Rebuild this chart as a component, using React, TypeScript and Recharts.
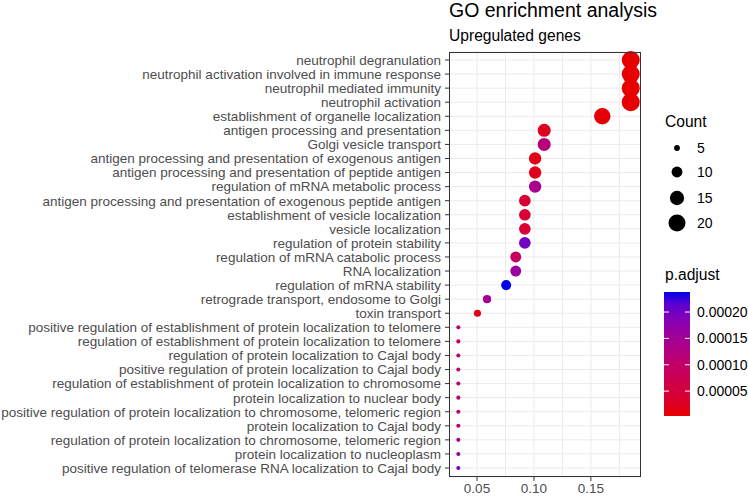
import {
  ScatterChart,
  Scatter,
  XAxis,
  YAxis,
  ZAxis,
  CartesianGrid,
  Cell,
} from "recharts";

const terms = [
  "neutrophil degranulation",
  "neutrophil activation involved in immune response",
  "neutrophil mediated immunity",
  "neutrophil activation",
  "establishment of organelle localization",
  "antigen processing and presentation",
  "Golgi vesicle transport",
  "antigen processing and presentation of exogenous antigen",
  "antigen processing and presentation of peptide antigen",
  "regulation of mRNA metabolic process",
  "antigen processing and presentation of exogenous peptide antigen",
  "establishment of vesicle localization",
  "vesicle localization",
  "regulation of protein stability",
  "regulation of mRNA catabolic process",
  "RNA localization",
  "regulation of mRNA stability",
  "retrograde transport, endosome to Golgi",
  "toxin transport",
  "positive regulation of establishment of protein localization to telomere",
  "regulation of establishment of protein localization to telomere",
  "regulation of protein localization to Cajal body",
  "positive regulation of protein localization to Cajal body",
  "regulation of establishment of protein localization to chromosome",
  "protein localization to nuclear body",
  "positive regulation of protein localization to chromosome, telomeric region",
  "protein localization to Cajal body",
  "regulation of protein localization to chromosome, telomeric region",
  "protein localization to nucleoplasm",
  "positive regulation of telomerase RNA localization to Cajal body",
];

const geneRatio = [
  0.185, 0.185, 0.185, 0.185, 0.16, 0.109, 0.109, 0.101, 0.101, 0.101, 0.092,
  0.092, 0.092, 0.092, 0.084, 0.084, 0.0756, 0.0588, 0.0504, 0.0336, 0.0336,
  0.0336, 0.0336, 0.0336, 0.0336, 0.0336, 0.0336, 0.0336, 0.0336, 0.0336,
];

const counts = [
  22, 22, 22, 22, 19, 13, 13, 12, 12, 12, 11, 11, 11, 11, 10, 10, 9, 7, 6, 4, 4,
  4, 4, 4, 4, 4, 4, 4, 4, 4,
];

const pAdjust = [
  0.0000028, 0.000003, 0.0000033, 0.0000036, 0.0000052, 0.000022, 0.00012,
  0.000016, 0.000018, 0.00014, 0.000042, 0.00004, 0.00004, 0.0002, 0.00009,
  0.00016, 0.000238, 0.00015, 0.000012, 0.0001, 0.0001, 0.0001, 0.0001,
  0.0001, 0.0001, 0.0001, 0.0001, 0.00014, 0.00016, 0.0002,
];

const xDomain = [0.0254, 0.194];
const xTicks = [0.05, 0.1, 0.15];
const xGrid = [0.05, 0.075, 0.1, 0.125, 0.15, 0.175];
const countBreaks = [5, 10, 15, 20];
const pBreaks = [0.00005, 0.0001, 0.00015, 0.0002];

const data = terms.map((term, i) => ({
  term,
  ratio: geneRatio[i],
  count: counts[i],
  p: pAdjust[i],
}));

// low (red) -> high (blue), mixed in Lab like ggplot's gradient
const LOW = [48.0, 74.0, 62.1];
const HIGH = [28.7, 73.3, -99.8];

function labToHex(L: number, a: number, b: number) {
  const fy = (L + 16) / 116;
  const fx = fy + a / 500;
  const fz = fy - b / 200;
  const f = (t: number) => (t ** 3 > 0.008856 ? t ** 3 : (t - 16 / 116) / 7.787);
  const X = 0.95047 * f(fx);
  const Y = f(fy);
  const Z = 1.08883 * f(fz);
  const lin = [
    3.2406 * X - 1.5372 * Y - 0.4986 * Z,
    -0.9689 * X + 1.8758 * Y + 0.0415 * Z,
    0.0557 * X - 0.204 * Y + 1.057 * Z,
  ];
  return (
    "#" +
    lin
      .map((c) => {
        c = Math.min(1, Math.max(0, c));
        const s = c <= 0.0031308 ? 12.92 * c : 1.055 * c ** (1 / 2.4) - 0.055;
        return Math.round(s * 255).toString(16).padStart(2, "0");
      })
      .join("")
  );
}

const pMin = Math.min(...pAdjust);
const pMax = Math.max(...pAdjust);

const colorAt = (t: number) =>
  labToHex(
    LOW[0] + (HIGH[0] - LOW[0]) * t,
    LOW[1] + (HIGH[1] - LOW[1]) * t,
    LOW[2] + (HIGH[2] - LOW[2]) * t
  );
const pColor = (p: number) => colorAt((p - pMin) / (pMax - pMin));

const font = "'Liberation Sans', Arial, sans-serif";

// minor + major vertical grid lines
const gridCoords = (args: any) => {
  const sc = args?.xAxis?.scale;
  if (typeof sc === "function") return xGrid.map((v) => sc(v));
  const left = args?.offset?.left ?? 449;
  const w = args?.offset?.width ?? 192;
  return xGrid.map(
    (v) => left + ((v - xDomain[0]) / (xDomain[1] - xDomain[0])) * w
  );
};

// single-line term labels (no wrapping)
const TermTick = ({ x, y, payload }: any) => (
  <text
    x={x - 2}
    y={y}
    dy="0.36em"
    textAnchor="end"
    fill="#4d4d4d"
    fontSize={13.5}
  >
    {payload.value}
  </text>
);

const Overlay = () => {
  const barTop = 292;
  const barBottom = 416;
  const barY = (p: number) =>
    barBottom - ((p - pMin) / (pMax - pMin)) * (barBottom - barTop);
  const sizeY = [148, 172, 198, 223];
  const radius = (c: number) =>
    Math.sqrt((13 + ((c - 4) / 18) * 241) / Math.PI);
  return (
    <svg
      width={748}
      height={497}
      style={{ position: "absolute", left: 0, top: 0, pointerEvents: "none" }}
    >
      <defs>
        <linearGradient id="pgrad" x1="0" y1="1" x2="0" y2="0">
          {Array.from({ length: 11 }, (_, i) => (
            <stop key={i} offset={i / 10} stopColor={colorAt(i / 10)} />
          ))}
        </linearGradient>
      </defs>
      <rect x={449.5} y={52.5} width={191} height={424} fill="none" stroke="#333333" />
      <text x={449} y={17} fontSize={19.5} fill="#000">
        GO enrichment analysis
      </text>
      <text x={449} y={41} fontSize={15.6} fill="#000">
        Upregulated genes
      </text>

      <text x={665} y={127} fontSize={15.6} fill="#000">
        Count
      </text>
      {countBreaks.map((c, i) => (
        <g key={c}>
          <circle cx={677} cy={sizeY[i]} r={radius(c)} fill="#000" />
          <text x={697} y={sizeY[i] + 5} fontSize={14} fill="#000">
            {c}
          </text>
        </g>
      ))}

      <text x={665} y={280} fontSize={15.6} fill="#000">
        p.adjust
      </text>
      <rect x={664} y={barTop} width={26} height={barBottom - barTop} fill="url(#pgrad)" />
      {pBreaks.map((p) => (
        <g key={p}>
          <line x1={664} x2={669} y1={barY(p)} y2={barY(p)} stroke="#fff" />
          <line x1={685} x2={690} y1={barY(p)} y2={barY(p)} stroke="#fff" />
          <text x={697} y={barY(p) + 5} fontSize={14} fill="#000">
            {p.toFixed(5)}
          </text>
        </g>
      ))}
    </svg>
  );
};

const App = () => {
  return (
    <div
      style={{
        position: "absolute",
        left: 0,
        top: 0,
        width: 748,
        height: 497,
        background: "#fff",
        fontFamily: font,
      }}
    >
      <ScatterChart
        width={748}
        height={497}
        margin={{ top: 52, right: 107, bottom: 0, left: 0 }}
      >
        <CartesianGrid stroke="#ebebeb" verticalCoordinatesGenerator={gridCoords} />
        <XAxis
          type="number"
          dataKey="ratio"
          domain={xDomain}
          ticks={xTicks}
          tickFormatter={(v: number) => v.toFixed(2)}
          height={20}
          tickSize={4}
          tickMargin={2}
          axisLine={false}
          tickLine={{ stroke: "#333333" }}
          tick={{ fill: "#4d4d4d", fontSize: 13.5 }}
        />
        <YAxis
          type="category"
          dataKey="term"
          scale="point"
          padding={{ top: 8, bottom: 9 }}
          width={449}
          interval={0}
          reversed
          tickSize={4}
          tickMargin={2}
          axisLine={false}
          tickLine={{ stroke: "#333333" }}
          tick={<TermTick />}
        />
        <ZAxis type="number" dataKey="count" domain={[4, 22]} range={[13, 254]} />
        <Scatter data={data} isAnimationActive={false}>
          {data.map((d, i) => (
            <Cell key={i} fill={pColor(d.p)} />
          ))}
        </Scatter>
      </ScatterChart>
      <Overlay />
    </div>
  );
};

export default App;
